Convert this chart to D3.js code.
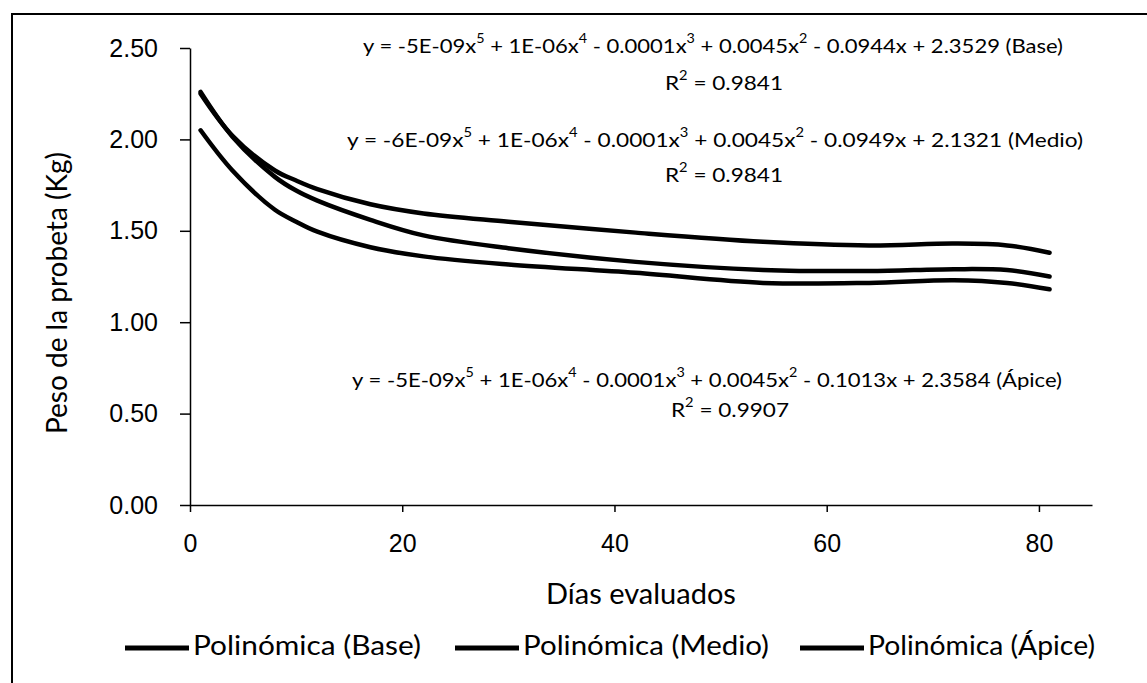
<!DOCTYPE html>
<html>
<head>
<meta charset="utf-8">
<script src="https://cdn.jsdelivr.net/npm/d3@7"></script>
<style>
  body { margin: 0; background: #fff; }
  svg { font-family: Lato, "Open Sans", sans-serif; }
  .axis path, .axis line { stroke: #000; stroke-width: 1.5; }
  .axis text { font-size: 25px; fill: #000; }
</style>
</head>
<body>
<div id="chart"></div>
<script>
// days
var days = [1, 4, 8, 10, 12, 17, 22, 30, 42, 54, 64, 72, 77, 81];
// trend lines (Kg)
var base  = [2.25, 2.02, 1.83, 1.775, 1.728, 1.645, 1.595, 1.55, 1.49, 1.44, 1.42, 1.43, 1.42, 1.38];
var apice = [2.26, 2.015, 1.795, 1.72, 1.665, 1.56, 1.475, 1.405, 1.33, 1.286, 1.28, 1.29, 1.285, 1.25];
var medio = [2.05, 1.83, 1.615, 1.55, 1.495, 1.41, 1.36, 1.316, 1.27, 1.215, 1.215, 1.23, 1.215, 1.18];

var y_ticks = [0, 0.5, 1, 1.5, 2, 2.5];
var x_ticks = [0, 20, 40, 60, 80];

var series_names = ['Polinómica (Base)', 'Polinómica (Medio)', 'Polinómica (Ápice)'];

// equation labels: [text, superscript] pieces
var eq_base  = [['y = -5E-09x', '5'], [' + 1E-06x', '4'], [' - 0.0001x', '3'], [' + 0.0045x', '2'], [' - 0.0944x + 2.3529  (Base)', '']];
var eq_medio = [['y = -6E-09x', '5'], [' + 1E-06x', '4'], [' - 0.0001x', '3'], [' + 0.0045x', '2'], [' - 0.0949x + 2.1321  (Medio)', '']];
var eq_apice = [['y = -5E-09x', '5'], [' + 1E-06x', '4'], [' - 0.0001x', '3'], [' + 0.0045x', '2'], [' - 0.1013x + 2.3584 (Ápice)', '']];
var r2_values = ['0.9841', '0.9841', '0.9907'];

var width = 1147;
var height = 683;
var margin = {'top': 48, 'right': 55, 'bottom': 178, 'left': 190};

var svg = d3.select('#chart')
    .append('svg')
    .attr('width', width)
    .attr('height', height);

// outer frame
svg.append('rect')
    .attr('x', 12)
    .attr('y', 14)
    .attr('width', width)
    .attr('height', height)
    .style('fill', 'none')
    .style('stroke', '#000')
    .style('stroke-width', 2);

var x = d3.scaleLinear()
    .domain([0, 85])
    .range([margin.left, width - margin.right]);

var y = d3.scaleLinear()
    .domain([0, 2.5])
    .range([height - margin.bottom, margin.top]);

svg.append('g')
    .attr('class', 'axis')
    .attr('transform', 'translate(0,' + (height - margin.bottom) + ')')
    .call(d3.axisBottom(x).tickValues(x_ticks).tickSize(7).tickSizeOuter(0).tickPadding(20))
    .selectAll('text')
    .attr('dy', '0.8em');

svg.append('g')
    .attr('class', 'axis')
    .attr('transform', 'translate(' + margin.left + ',0)')
    .call(d3.axisLeft(y).tickValues(y_ticks).tickFormat(d3.format('.2f')).tickSize(10).tickSizeOuter(0).tickPadding(22));

// trend lines
var line = d3.line()
    .x(function(d){ return x(d[0]); })
    .y(function(d){ return y(d[1]); })
    .curve(d3.curveCatmullRom.alpha(0.5));

[base, medio, apice].forEach(function(values){
    svg.append('path')
        .datum(days.map(function(d, i){ return [d, values[i]]; }))
        .attr('d', line)
        .style('fill', 'none')
        .style('stroke', '#000')
        .style('stroke-width', 4.5)
        .style('stroke-linecap', 'round');
});

// equations
function equation(parts, px, py, len){
    var t = svg.append('text')
        .attr('x', px)
        .attr('y', py)
        .attr('textLength', len)
        .attr('lengthAdjust', 'spacingAndGlyphs')
        .style('font-size', '20px')
        .attr('dominant-baseline', 'middle');
    parts.forEach(function(p){
        t.append('tspan').text(p[0]);
        if (p[1]) {
            t.append('tspan')
                .attr('baseline-shift', 'super')
                .style('font-size', '13px')
                .text(p[1]);
        }
    });
}

function r2(value, cx, py){
    var t = svg.append('text')
        .attr('x', cx - 59)
        .attr('y', py)
        .attr('textLength', 118)
        .attr('lengthAdjust', 'spacingAndGlyphs')
        .attr('dominant-baseline', 'middle')
        .style('font-size', '20px');
    t.append('tspan').text('R');
    t.append('tspan').attr('baseline-shift', 'super').style('font-size', '13px').text('2');
    t.append('tspan').text(' = ' + value);
}

equation(eq_base, 363, 48, 700);
r2(r2_values[0], 724, 85);
equation(eq_medio, 347, 142, 736);
r2(r2_values[1], 724, 177);
equation(eq_apice, 352, 382, 710);
r2(r2_values[2], 730, 412);

// axis titles
svg.append('text')
    .attr('x', (margin.left + width - margin.right) / 2)
    .attr('y', 597)
    .attr('text-anchor', 'middle')
    .attr('dominant-baseline', 'middle')
    .style('font-size', '29px')
    .text('Días evaluados');

svg.append('text')
    .attr('transform', 'translate(60,' + 293 + ') rotate(-90)')
    .attr('text-anchor', 'middle')
    .attr('dominant-baseline', 'middle')
    .style('font-size', '28px')
    .text('Peso de la probeta (Kg)');

// legend
var legend_x = [125, 455, 800];
var legend_w = [228, 246, 227];
series_names.forEach(function(name, i){
    var g = svg.append('g')
        .attr('transform', 'translate(' + legend_x[i] + ',648)');
    g.append('line')
        .attr('x1', 0)
        .attr('x2', 64)
        .attr('y1', 0)
        .attr('y2', 0)
        .style('stroke', '#000')
        .style('stroke-width', 5);
    g.append('text')
        .attr('x', 68)
        .attr('y', 0)
        .attr('textLength', legend_w[i])
        .attr('lengthAdjust', 'spacingAndGlyphs')
        .attr('dominant-baseline', 'middle')
        .style('font-size', '27px')
        .text(name);
});
</script>
</body>
</html>
